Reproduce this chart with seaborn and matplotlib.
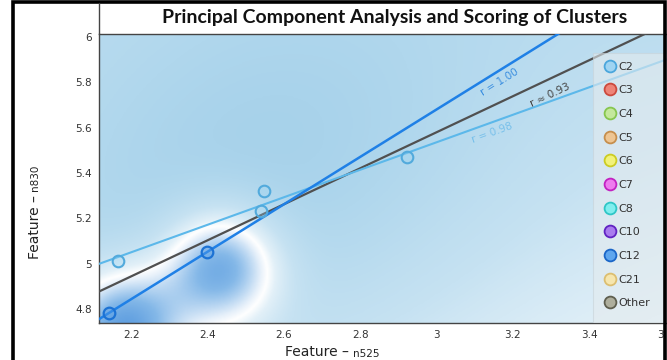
import numpy as np
import pandas as pd
import matplotlib
matplotlib.use("Agg")
import matplotlib.pyplot as plt
from matplotlib.colors import LinearSegmentedColormap
from matplotlib.lines import Line2D
from matplotlib.patches import Rectangle
import seaborn as sns

# puntos
c2_x = [2.165, 2.539, 2.547, 2.922]
c2_y = [5.013, 5.233, 5.321, 5.470]
c12_x = [2.141, 2.397]
c12_y = [4.784, 5.051]

r_labels = ["r = 1.00", "r \u2248 0.93", "r = 0.98"]
r_label_x = [3.166, 3.297, 3.145]
r_label_y = [5.800, 5.744, 5.577]

legend_labels = ["C2", "C3", "C4", "C5", "C6", "C7", "C8", "C10", "C12", "C21", "Other"]
legend_faces = ["#9fd4f2", "#ee8478", "#c4e89c", "#eec592", "#f2f27a", "#ee7cee",
                "#80eeee", "#a97cee", "#5ea6ee", "#f6e6ae", "#aeae9c"]
legend_edges = ["#4aa6dc", "#cc4a3e", "#86c64e", "#c68e4c", "#cccc22", "#c222c2",
                "#2ec6c6", "#6022c2", "#1a66c8", "#dcbe70", "#5e5e4e"]

x_ticks = [2.2, 2.4, 2.6, 2.8, 3.0, 3.2, 3.4, 3.6]
x_tick_labels = ["2.2", "2.4", "2.6", "2.8", "3", "3.2", "3.4", "3.6"]
y_ticks = [4.8, 5.0, 5.2, 5.4, 5.6, 5.8, 6.0]
y_tick_labels = ["4.8", "5", "5.2", "5.4", "5.6", "5.8", "6"]

df = pd.DataFrame({
    "x": c2_x + c12_x,
    "y": c2_y + c12_y,
    "cluster": ["C2"] * len(c2_x) + ["C12"] * len(c12_x),
})

sns.set_style("white")
plt.rcParams["font.family"] = ["DejaVu Sans"]

W, H = 667, 360
fig = plt.figure(figsize=(W / 100, H / 100), dpi=100)
ax = fig.add_axes([99 / W, 1 - 323 / H, 1 - 99 / W, (323 - 34) / H])
xmin, xmax, ymin, ymax = 2.115, 3.604, 4.74, 6.012
ax.set_xlim(xmin, xmax)
ax.set_ylim(ymin, ymax)

# fondo: campo suave calculado a partir de los puntos
gx = np.linspace(xmin, xmax, 400)
gy = np.linspace(ymin, ymax, 260)
GX, GY = np.meshgrid(gx, gy)
PX = (GX - xmin) * 381.5
PY = (GY - ymin) * 227.0
pos = np.zeros_like(PX)
for x, y in zip(c2_x, c2_y):
    d2 = (PX - (x - xmin) * 381.5) ** 2 + (PY - 30 - (y - ymin) * 227.0) ** 2
    pos += 0.16 * np.exp(-d2 / (2 * 120 ** 2))
neg = np.zeros_like(PX)
for x, y in zip(c12_x, c12_y):
    d2 = (PX - 14 - (x - xmin) * 381.5) ** 2 + (PY + 14 - (y - ymin) * 227.0) ** 2
    neg += 1.3 * np.exp(-d2 / (2 * 42 ** 2))
base = 0.42 + 0.12 * (PY / PY.max()) - 0.3 * (PX / PX.max()) * (1 - PY / PY.max())
field = np.clip(pos + base - neg, -1, 1)
bg_cmap = LinearSegmentedColormap.from_list(
    "bg", [(0.0, "#3c86d8"), (0.25, "#84b8e8"), (0.44, "#e6f0fa"), (0.5, "#ffffff"),
           (0.57, "#e2f0f8"), (0.7, "#c6e2f2"), (0.88, "#b0d7ed"), (1.0, "#a2cfe9")])
ax.imshow(field, extent=(xmin, xmax, ymin, ymax), origin="lower", aspect="auto",
          cmap=bg_cmap, vmin=-1, vmax=1, interpolation="bilinear", zorder=0)

# rectas de regresion
sns.regplot(data=df, x="x", y="y", scatter=False, ci=None, truncate=False, ax=ax,
            line_kws={"color": "#505050", "lw": 1.6, "zorder": 3})
sns.regplot(data=df[df.cluster == "C2"], x="x", y="y", scatter=False, ci=None,
            truncate=False, ax=ax, line_kws={"color": "#5cb8ea", "lw": 1.5, "zorder": 3})
sns.regplot(data=df[df.cluster == "C12"], x="x", y="y", scatter=False, ci=None,
            truncate=False, ax=ax, line_kws={"color": "#1f80e6", "lw": 1.8, "zorder": 4})
ax.set_xlim(xmin, xmax)
ax.set_ylim(ymin, ymax)

# puntos
sns.scatterplot(data=df[df.cluster == "C2"], x="x", y="y", s=70, ax=ax, zorder=5,
                color=(0.6, 0.83, 0.95, 0.3), edgecolor="#52aadc", linewidth=1.5)
sns.scatterplot(data=df[df.cluster == "C12"], x="x", y="y", s=70, ax=ax, zorder=5,
                color=(0.35, 0.62, 0.9, 0.4), edgecolor="#1c72d4", linewidth=1.6)

# etiquetas r
r_colors = ["#3a8ee0", "#444444", "#78c0ea"]
groups = [df[df.cluster == "C12"], df, df[df.cluster == "C2"]]
for lab, lx, ly, col, g in zip(r_labels, r_label_x, r_label_y, r_colors, groups):
    k = np.polyfit(g.x, g.y, 1)[0]
    p0 = ax.transData.transform((lx, ly))
    p1 = ax.transData.transform((lx + 0.1, ly + 0.1 * k))
    ang = np.degrees(np.arctan2(p1[1] - p0[1], p1[0] - p0[0]))
    ax.text(lx, ly, lab, color=col, fontsize=7.5, rotation=ang, rotation_mode="anchor",
            ha="center", va="center", zorder=6)

# ejes
ax.set_xticks(x_ticks)
ax.set_xticklabels(x_tick_labels)
ax.set_yticks(y_ticks)
ax.set_yticklabels(y_tick_labels)
ax.tick_params(direction="in", length=4, width=0.8, color="#666666",
               labelsize=7.5, labelcolor="#333333", pad=5)
ax.set_xlabel("")
ax.set_ylabel("")
for side in ["left", "bottom", "top"]:
    ax.spines[side].set_color("#444444")
    ax.spines[side].set_linewidth(1.0)
ax.spines["right"].set_visible(False)

# leyenda
ax.add_patch(Rectangle((593 / W, 1 - 53 / H), 80 / W, -(323 - 53) / H,
                       transform=fig.transFigure, facecolor="#e4ebee", alpha=0.6,
                       edgecolor="#c8d2d8", lw=0.8, zorder=7))
handles = [Line2D([], [], marker="o", ls="", markersize=8.5, markerfacecolor=fc,
                  markeredgecolor=ec, markeredgewidth=1.3)
           for fc, ec in zip(legend_faces, legend_edges)]
leg = ax.legend(handles, legend_labels, loc="upper left",
                bbox_to_anchor=(598 / W, 1 - 56 / H), bbox_transform=fig.transFigure,
                frameon=False, fontsize=8, labelspacing=1.23, handletextpad=0.1,
                handlelength=1.2, borderpad=0)
leg.set_zorder(8)
for t in leg.get_texts():
    t.set_color("#333333")

# titulo y marco
fig.text(395 / W, 1 - 18 / H, "Principal Component Analysis and Scoring of Clusters",
         ha="center", va="center", fontsize=14, fontweight="bold", family="Lato",
         color="#111111")
fig.add_artist(Line2D([99 / W, 99 / W], [1 - 34 / H, 1 - 3 / H], color="#444444", lw=1.0))
fig.add_artist(Rectangle((13 / W, -0.1), (665 - 13) / W, 1.1 - 2 / H, fill=False,
                         edgecolor="black", lw=2.6, transform=fig.transFigure))

# etiquetas de ejes
tx = fig.text(285 / W, 1 - 356 / H, "Feature \u2013 ", fontsize=10, color="#222222",
              ha="left", va="baseline")
ax.annotate("n525", xy=(1, 0), xycoords=tx, fontsize=7.5, color="#222222",
            ha="left", va="bottom", annotation_clip=False)
ty = fig.text(35 / W, 1 - 259 / H, "Feature \u2013 ", fontsize=10, color="#222222",
              rotation=90, ha="center", va="bottom")
ax.annotate("n830", xy=(0.5, 1), xycoords=ty, fontsize=7.5, color="#222222",
            rotation=90, ha="center", va="bottom", annotation_clip=False)

fig.savefig("out.png", dpi=100)
